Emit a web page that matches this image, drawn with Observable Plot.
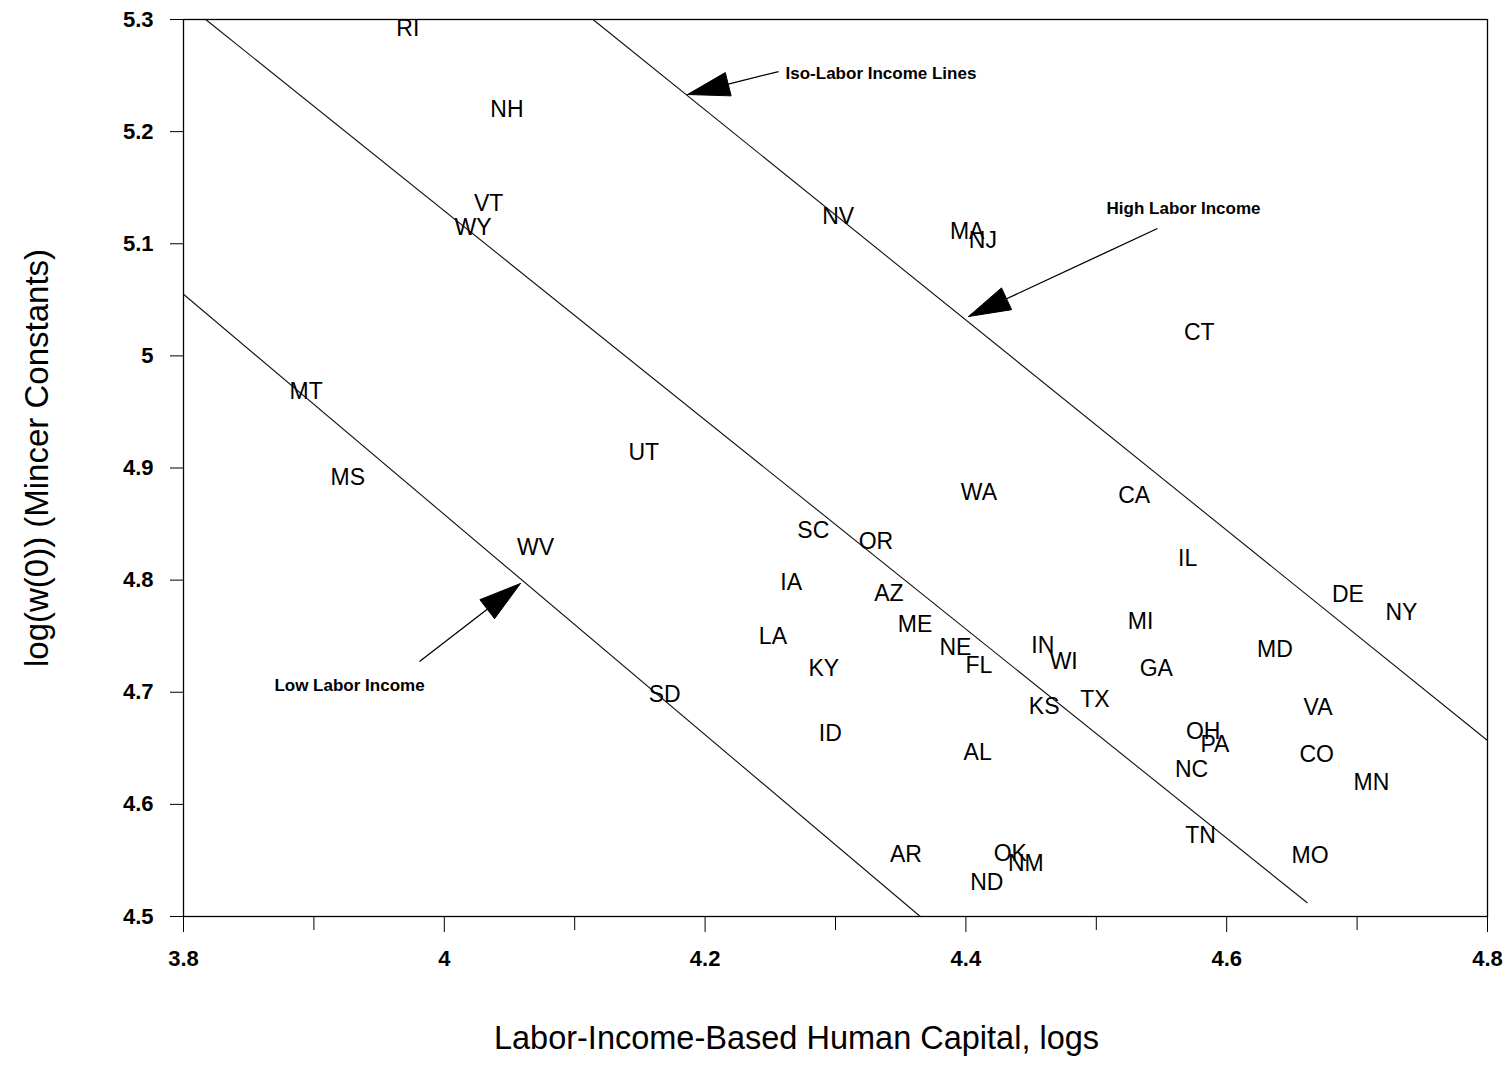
<!DOCTYPE html>
<html>
<head>
<meta charset="utf-8">
<script src="https://cdn.jsdelivr.net/npm/d3@7"></script>
<script src="https://cdn.jsdelivr.net/npm/@observablehq/plot@0.6"></script>
<style>
  html, body { margin: 0; padding: 0; background: #fff; }
  #chart svg { display: block; }
</style>
</head>
<body>
<div id="chart"></div>
<script>
// ---- Data ----
const states = ["RI","NH","VT","WY","NV","MA","NJ","CT","MT","UT","MS","WA","CA","SC","OR","WV","IL","IA","AZ","DE","NY","MI","ME","LA","IN","NE","MD","WI","FL","GA","KY","SD","TX","KS","VA","ID","OH","PA","AL","CO","NC","MN","TN","AR","OK","MO","NM","ND"];
const humanCapital = [3.972,4.048,4.034,4.022,4.302,4.401,4.413,4.579,3.894,4.153,3.926,4.410,4.529,4.283,4.331,4.070,4.570,4.266,4.341,4.693,4.734,4.534,4.361,4.252,4.459,4.392,4.637,4.475,4.410,4.546,4.291,4.169,4.499,4.460,4.670,4.296,4.582,4.591,4.409,4.669,4.573,4.711,4.580,4.354,4.434,4.664,4.446,4.416];
const mincerConst = [5.292,5.220,5.136,5.114,5.124,5.111,5.103,5.021,4.968,4.914,4.891,4.878,4.875,4.844,4.834,4.829,4.819,4.798,4.788,4.787,4.771,4.763,4.760,4.750,4.742,4.740,4.738,4.727,4.724,4.721,4.721,4.698,4.693,4.687,4.686,4.663,4.665,4.653,4.646,4.644,4.631,4.619,4.572,4.555,4.556,4.554,4.547,4.530];

// Iso-labor income lines (endpoints)
const isoX1 = [3.800, 3.817, 4.114];
const isoY1 = [5.055, 5.300, 5.300];
const isoX2 = [4.365, 4.662, 4.800];
const isoY2 = [4.500, 4.512, 4.657];

// Annotation arrows (tail -> tip) and labels
const annText = ["Iso-Labor Income Lines", "High Labor Income", "Low Labor Income"];
const annTextX = [4.2617, 4.5669, 3.9273];
const annTextY = [5.2518, 5.1314, 4.7060];
const annAnchor = ["start", "middle", "middle"];
const arrowTailX = [4.2563, 4.5469, 3.9810];
const arrowTailY = [5.2536, 5.1136, 4.7274];
const arrowTipX = [4.1865, 4.4020, 4.0584];
const arrowTipY = [5.2331, 5.0351, 4.7970];

// Axis ticks
const xMajorTicks = [3.8, 4.0, 4.2, 4.4, 4.6, 4.8];
const xMajorLabels = ["3.8", "4", "4.2", "4.4", "4.6", "4.8"];
const xMinorTicks = [3.9, 4.1, 4.3, 4.5, 4.7];
const yTicks = [4.5, 4.6, 4.7, 4.8, 4.9, 5.0, 5.1, 5.2, 5.3];
const yTickLabels = ["4.5", "4.6", "4.7", "4.8", "4.9", "5", "5.1", "5.2", "5.3"];

const xTitle = "Labor-Income-Based Human Capital, logs";
const yTitle = "log(w(0)) (Mincer Constants)";

// ---- Build tables ----
const W = 1507, H = 1070;
const mL = 183, mR = 20, mT = 19, mB = 154;
const xDomain = [3.8, 4.8], yDomain = [4.5, 5.3];
const kx = (W - mL - mR) / (xDomain[1] - xDomain[0]);
const ky = (H - mT - mB) / (yDomain[1] - yDomain[0]);

const points = states.map((s, i) => ({state: s, x: humanCapital[i], y: mincerConst[i]}));
const isoLines = isoX1.map((_, i) => ({x1: isoX1[i], y1: isoY1[i], x2: isoX2[i], y2: isoY2[i]}));
const annotations = annText.map((t, i) => ({text: t, x: annTextX[i], y: annTextY[i], anchor: annAnchor[i]}));

// Arrow shafts end at base of the head; heads are filled triangles
const headLen = 42, headW = 24;
const shafts = [], heads = [];
arrowTipX.forEach((_, i) => {
  const tx = arrowTipX[i], ty = arrowTipY[i];
  const sx = arrowTailX[i], sy = arrowTailY[i];
  let dx = (tx - sx) * kx, dy = -(ty - sy) * ky;
  const len = Math.hypot(dx, dy); dx /= len; dy /= len;
  const bx = -dx * headLen, by = -dy * headLen;
  const px = -dy, py = dx;
  const toData = (ox, oy) => ({x: tx + ox / kx, y: ty - oy / ky});
  const base = toData(bx, by);
  shafts.push({x1: sx, y1: sy, x2: base.x, y2: base.y});
  const c1 = toData(bx + px * headW / 2, by + py * headW / 2);
  const c2 = toData(bx - px * headW / 2, by - py * headW / 2);
  heads.push({id: i, x: tx, y: ty}, {id: i, ...c1}, {id: i, ...c2}, {id: i, x: tx, y: ty});
});

const font = "'Liberation Sans', Arial, Helvetica, sans-serif";

const chart = Plot.plot({
  width: W,
  height: H,
  marginLeft: mL,
  marginRight: mR,
  marginTop: mT,
  marginBottom: mB,
  style: {fontFamily: font, background: "#fff", color: "#000", overflow: "visible"},
  x: {domain: xDomain},
  y: {domain: yDomain},
  marks: [
    Plot.frame({stroke: "#000", strokeWidth: 1.3}),
    Plot.axisY({ticks: yTicks, tickFormat: d => yTickLabels[yTicks.indexOf(d)], tickSize: 13, tickPadding: 17, fontSize: 22, fontWeight: "bold", label: null, stroke: "#000"}),
    Plot.axisX({ticks: xMajorTicks, tickFormat: d => xMajorLabels[xMajorTicks.indexOf(d)], tickSize: 16, tickPadding: 18, fontSize: 22, fontWeight: "bold", label: null, stroke: "#000"}),
    Plot.axisX({ticks: xMinorTicks, tickFormat: () => "", tickSize: 14, label: null, stroke: "#000"}),
    Plot.link(isoLines, {x1: "x1", y1: "y1", x2: "x2", y2: "y2", stroke: "#111", strokeWidth: 1.1}),
    Plot.link(shafts, {x1: "x1", y1: "y1", x2: "x2", y2: "y2", stroke: "#000", strokeWidth: 1.3}),
    Plot.line(heads, {x: "x", y: "y", z: "id", fill: "#000", stroke: "#000", strokeWidth: 1}),
    Plot.text(points, {x: "x", y: "y", text: "state", fontSize: 23, fill: "#000"}),
    Plot.text(annotations.filter(d => d.anchor === "start"), {x: "x", y: "y", text: "text", textAnchor: "start", fontSize: 17, fontWeight: "bold", fill: "#000"}),
    Plot.text(annotations.filter(d => d.anchor === "middle"), {x: "x", y: "y", text: "text", textAnchor: "middle", fontSize: 17, fontWeight: "bold", fill: "#000"}),
    Plot.text([xTitle], {frameAnchor: "bottom", textAnchor: "middle", dx: -39, dy: 132, fontSize: 32.5, fill: "#000"}),
    Plot.text([yTitle], {frameAnchor: "left", textAnchor: "middle", rotate: -90, dx: -146, dy: -10, fontSize: 33, fill: "#000"})
  ]
});
document.getElementById("chart").appendChild(chart);
</script>
</body>
</html>
